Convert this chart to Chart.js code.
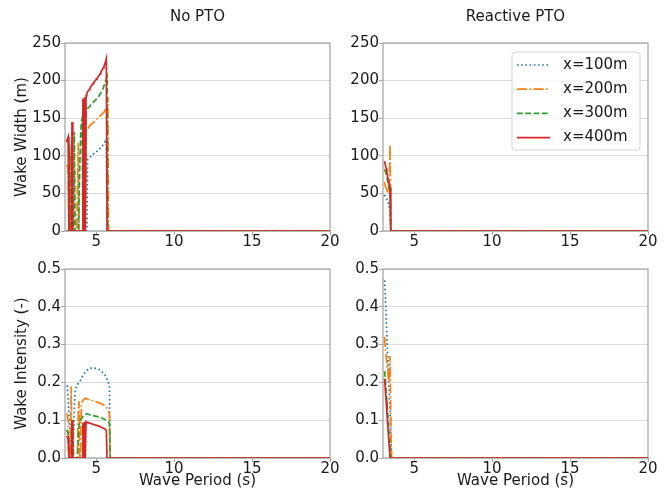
<!DOCTYPE html>
<html>
<head>
<meta charset="utf-8">
<script src="https://cdn.jsdelivr.net/npm/chart.js@4.4.0/dist/chart.umd.min.js"></script>
<style>
    html, body { margin: 0; padding: 0; background: #fff; }
    #fig { position: relative; width: 672px; height: 494px; overflow: hidden; }
    #fig canvas { position: absolute; }
</style>
</head>
<body>
<div id="fig">
    <canvas id="widthNo" width="345" height="250" style="left:0px;top:0px"></canvas>
    <canvas id="widthReactive" width="354" height="250" style="left:318px;top:0px"></canvas>
    <canvas id="intensityNo" width="345" height="244" style="left:0px;top:250px"></canvas>
    <canvas id="intensityReactive" width="354" height="244" style="left:318px;top:250px"></canvas>
</div>
<script>
// Series names and tick values
const seriesLabels = ['x=100m', 'x=200m', 'x=300m', 'x=400m'];
const periodTicks = [5, 10, 15, 20];
const widthTicks = [0, 50, 100, 150, 200, 250];
const intensityTicks = [0, 0.1, 0.2, 0.3, 0.4, 0.5];

// No PTO: wave periods (s)
const periodsNo = [
    3.10, 3.15, 3.20, 3.25, 3.30, 3.35, 3.40, 3.45, 3.50, 3.55,
    3.60, 3.65, 3.70, 3.75, 3.80, 3.85, 3.90, 3.95, 4.00, 4.05,
    4.10, 4.15, 4.20, 4.25, 4.30, 4.35, 4.40, 4.45, 4.50, 4.55,
    4.60, 4.65, 4.70, 4.75, 4.80, 4.85, 4.90, 4.95, 5.00, 5.05,
    5.10, 5.15, 5.20, 5.25, 5.30, 5.35, 5.40, 5.45, 5.50, 5.55,
    5.60, 5.65, 5.70, 5.75, 5.80, 5.85, 5.90, 5.95, 20
];

// No PTO: wake width (m)
const widthNo100 = [
    0, 0, 0, 0, 0, 0, 0, 0, 30, 55,
    72, 78, 80, 81, 82, 83, 0, 0, 0, 0,
    0, 0, 0, 0, 0, 0, 0, 95, 96, 97,
    98, 99, 100, 101, 102, 103, 104, 104, 105, 106,
    107, 108, 109, 110, 111, 112, 113, 115, 116, 118,
    120, 122, 0, 0, 0, 0, 0, 0, 0
];
const widthNo200 = [
    88, 86, 85, 0, 0, 104, 0, 0, 0, 0,
    0, 0, 0, 0, 60, 117, 0, 0, 0, 0,
    0, 0, 0, 0, 0, 132, 134, 136, 137, 139,
    140, 141, 142, 143, 144, 145, 146, 147, 148, 149,
    150, 151, 152, 153, 154, 155, 156, 157, 158, 160,
    162, 164, 166, 178, 0, 0, 0, 0, 0
];
const widthNo300 = [
    0, 0, 0, 0, 115, 0, 0, 0, 0, 0,
    132, 0, 0, 0, 0, 0, 40, 90, 125, 145,
    150, 0, 0, 0, 0, 158, 161, 163, 164, 165,
    166, 168, 169, 170, 171, 172, 173, 174, 175, 177,
    178, 179, 180, 182, 184, 186, 188, 190, 193, 196,
    199, 202, 205, 0, 0, 0, 0, 0, 0
];
const widthNo400 = [
    118, 122, 125, 0, 0, 0, 0, 145, 0, 0,
    0, 0, 0, 0, 0, 0, 0, 0, 0, 0,
    0, 176, 0, 178, 0, 180, 183, 185, 187, 188,
    190, 192, 193, 195, 196, 198, 199, 200, 202, 203,
    204, 206, 207, 209, 211, 213, 215, 217, 219, 222,
    225, 229, 0, 0, 0, 0, 0, 0, 0
];

// No PTO: wake intensity (-)
const intensityNo100 = [
    0.19, 0.19, 0.16, 0.12, 0.08, 0.05, 0.03, 0.01, 0, 0.06,
    0.13, 0.18, 0.185, 0.19, 0.194, 0.197, 0.2, 0.203, 0.206, 0.21,
    0.214, 0.218, 0.221, 0.224, 0.227, 0.229, 0.231, 0.233, 0.235, 0.236,
    0.237, 0.237, 0.238, 0.238, 0.238, 0.238, 0.238, 0.237, 0.237, 0.237,
    0.236, 0.235, 0.234, 0.233, 0.231, 0.229, 0.227, 0.225, 0.222, 0.22,
    0.217, 0.213, 0.208, 0.203, 0.198, 0.19, 0, 0, 0
];
const intensityNo200 = [
    0.118, 0.11, 0.1, 0, 0, 0, 0.19, 0, 0, 0,
    0, 0, 0, 0, 0, 0.12, 0.15, 0, 0, 0.145,
    0.148, 0.152, 0.155, 0.157, 0.158, 0.158, 0.157, 0.156, 0.155, 0.155,
    0.154, 0.153, 0.153, 0.152, 0.152, 0.151, 0.15, 0.15, 0.149, 0.148,
    0.147, 0.146, 0.146, 0.145, 0.144, 0.143, 0.142, 0.141, 0.139, 0.138,
    0.136, 0.134, 0.131, 0.127, 0.123, 0.118, 0, 0, 0
];
const intensityNo300 = [
    0.075, 0.07, 0.065, 0, 0, 0, 0, 0, 0.09, 0,
    0, 0, 0, 0, 0, 0.05, 0.085, 0.096, 0.1, 0.104,
    0.107, 0.11, 0.112, 0.114, 0.115, 0.116, 0.117, 0.117, 0.116, 0.115,
    0.114, 0.114, 0.113, 0.113, 0.112, 0.112, 0.111, 0.111, 0.11, 0.11,
    0.109, 0.109, 0.108, 0.108, 0.107, 0.106, 0.105, 0.104, 0.103, 0.102,
    0.101, 0.1, 0.099, 0.097, 0.095, 0.092, 0, 0, 0
];
const intensityNo400 = [
    0.058, 0.056, 0.055, 0, 0, 0, 0, 0.1, 0, 0,
    0, 0, 0, 0, 0, 0, 0, 0, 0, 0,
    0, 0.093, 0, 0.095, 0, 0.096, 0.095, 0.094, 0.093, 0.093,
    0.092, 0.091, 0.091, 0.09, 0.089, 0.089, 0.088, 0.087, 0.087, 0.086,
    0.085, 0.085, 0.084, 0.083, 0.082, 0.081, 0.08, 0.079, 0.078, 0.077,
    0.075, 0.073, 0, 0, 0, 0, 0, 0, 0
];

// Reactive PTO
const periodsReactive = [3.10, 3.15, 3.20, 3.25, 3.30, 3.35, 3.40, 3.45, 3.50, 3.55, 20];
const widthReactive100 = [48, 46, 44, 42, 40, 36, 32, 28, 0, 0, 0];
const widthReactive200 = [65, 60, 57, 55, 52, 50, 60, 115, 0, 0, 0];
const widthReactive300 = [82, 79, 76, 72, 66, 60, 55, 50, 0, 0, 0];
const widthReactive400 = [93, 88, 83, 78, 72, 67, 62, 58, 0, 0, 0];
const intensityReactive100 = [0.47, 0.43, 0.38, 0.32, 0.27, 0.22, 0.17, 0.12, 0.06, 0, 0];
const intensityReactive200 = [0.32, 0.29, 0.27, 0.25, 0.23, 0.21, 0.2, 0.27, 0.12, 0, 0];
const intensityReactive300 = [0.23, 0.21, 0.18, 0.15, 0.12, 0.09, 0.06, 0.03, 0, 0, 0];
const intensityReactive400 = [0.21, 0.18, 0.15, 0.12, 0.09, 0.06, 0.03, 0, 0, 0, 0];

const seriesColors = ['#1f77b4', '#ff7f0e', '#2ca02c', '#d62728'];
const seriesDashes = [[1.6, 2.6], [10, 2.5, 1.6, 2.5], [5.8, 2.5], []];
const textColor = '#1a1a1a';
const spineColor = '#a8a8a8';
const fontFamily = '"DejaVu Sans", sans-serif';

Chart.defaults.font.family = fontFamily;
Chart.defaults.color = textColor;

// Box around the plot area, like matplotlib spines
const framePlugin = {
    id: 'frame',
    beforeDatasetsDraw(chart) {
        const { ctx, chartArea: a } = chart;
        ctx.save();
        ctx.strokeStyle = spineColor;
        ctx.lineWidth = 1.3;
        ctx.strokeRect(a.left, a.top, a.right - a.left, a.bottom - a.top);
        ctx.restore();
    }
};

// Legend inside the plot area (upper right)
const boxLegendPlugin = {
    id: 'boxLegend',
    afterDraw(chart, args, opts) {
        if (!opts.show) return;
        const { ctx, chartArea: a } = chart;
        const w = 128, h = 98;
        const left = a.right - 8 - w;
        const top = a.top + 9;
        ctx.save();
        ctx.fillStyle = 'rgba(255,255,255,0.85)';
        ctx.strokeStyle = '#d4d4d4';
        ctx.lineWidth = 1;
        ctx.beginPath();
        ctx.roundRect(left, top, w, h, 3);
        ctx.fill();
        ctx.stroke();
        ctx.font = '15px ' + fontFamily;
        ctx.textBaseline = 'middle';
        chart.data.datasets.forEach((ds, i) => {
            const y = top + 13 + i * 24.2;
            ctx.strokeStyle = ds.borderColor;
            ctx.lineWidth = ds.borderWidth;
            ctx.setLineDash(ds.borderDash);
            ctx.beginPath();
            ctx.moveTo(left + 5, y);
            ctx.lineTo(left + 38, y);
            ctx.stroke();
            ctx.setLineDash([]);
            ctx.fillStyle = textColor;
            ctx.fillText(ds.label, left + 51, y);
        });
        ctx.restore();
    }
};

function buildPanel(canvasId, periods, seriesValues, cfg) {
    const datasets = seriesValues.map((values, i) => ({
        label: seriesLabels[i],
        data: values.map((v, j) => ({ x: periods[j], y: v })),
        borderColor: seriesColors[i],
        borderDash: seriesDashes[i],
        borderWidth: 1.7,
        pointRadius: 0,
        tension: 0,
        fill: false,
        order: seriesValues.length - 1 - i
    }));

    return new Chart(document.getElementById(canvasId), {
        type: 'line',
        data: { datasets: datasets },
        options: {
            responsive: false,
            animation: false,
            events: [],
            layout: { padding: { top: cfg.padTop, right: cfg.padRight, bottom: 0, left: 0 } },
            plugins: {
                legend: { display: false },
                tooltip: { enabled: false },
                title: cfg.title ? {
                    display: true,
                    text: cfg.title,
                    fullSize: false,
                    color: textColor,
                    font: { size: 15, weight: 'normal' },
                    padding: { top: 8, bottom: 17 }
                } : { display: false },
                boxLegend: { show: !!cfg.legend }
            },
            scales: {
                x: {
                    type: 'linear',
                    min: 3,
                    max: 20,
                    afterBuildTicks: s => { s.ticks = periodTicks.map(v => ({ value: v })); },
                    afterFit: s => { s.height = cfg.xHeight; },
                    grid: { drawOnChartArea: false, tickLength: 4, tickColor: spineColor },
                    border: { display: false },
                    ticks: { color: textColor, font: { size: 15, lineHeight: 1 }, padding: 0, maxRotation: 0 },
                    title: cfg.xTitle ? {
                        display: true,
                        text: 'Wave Period (s)',
                        color: textColor,
                        font: { size: 15 },
                        padding: { top: 0, bottom: 4 }
                    } : { display: false }
                },
                y: {
                    min: 0,
                    max: cfg.yTicks[cfg.yTicks.length - 1],
                    afterBuildTicks: s => { s.ticks = cfg.yTicks.map(v => ({ value: v })); },
                    afterFit: s => { s.width = 65; },
                    grid: { color: '#dcdcdc', lineWidth: 1, tickLength: 4, tickColor: spineColor },
                    border: { display: false },
                    ticks: { color: textColor, font: { size: 15 }, padding: 0, callback: cfg.format },
                    title: cfg.yTitle ? {
                        display: true,
                        text: cfg.yTitle,
                        color: textColor,
                        font: { size: 15 },
                        padding: { top: 13, bottom: 0 }
                    } : { display: false }
                }
            }
        },
        plugins: [framePlugin, boxLegendPlugin]
    });
}

const widthFormat = v => String(v);
const intensityFormat = v => Number(v).toFixed(1);

buildPanel('widthNo', periodsNo, [widthNo100, widthNo200, widthNo300, widthNo400], {
    title: 'No PTO', yTitle: 'Wake Width (m)', yTicks: widthTicks, format: widthFormat,
    padTop: 0, padRight: 15, xHeight: 19
});
buildPanel('widthReactive', periodsReactive, [widthReactive100, widthReactive200, widthReactive300, widthReactive400], {
    title: 'Reactive PTO', yTicks: widthTicks, format: widthFormat,
    padTop: 0, padRight: 24, xHeight: 19, legend: true
});
buildPanel('intensityNo', periodsNo, [intensityNo100, intensityNo200, intensityNo300, intensityNo400], {
    yTitle: 'Wake Intensity (-)', yTicks: intensityTicks, format: intensityFormat,
    padTop: 19, padRight: 15, xHeight: 36, xTitle: true
});
buildPanel('intensityReactive', periodsReactive, [intensityReactive100, intensityReactive200, intensityReactive300, intensityReactive400], {
    yTicks: intensityTicks, format: intensityFormat,
    padTop: 19, padRight: 24, xHeight: 36, xTitle: true
});
</script>
</body>
</html>
